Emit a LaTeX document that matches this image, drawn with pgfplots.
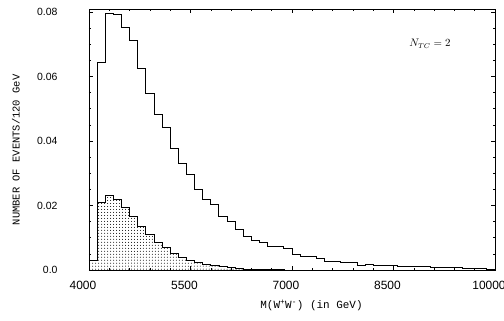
\documentclass[border=0pt]{standalone}
\usepackage{fontspec}
\setmainfont{Liberation Sans}
\setmonofont{Liberation Mono}
\usepackage{pgfplots}
\usepackage{pgfplotstable}
\pgfplotsset{compat=1.18}
\usetikzlibrary{patterns,calc}

\pgfplotstableread{
x big small
4000 0.0030 0.0029
4120 0.0642 0.0209
4240 0.0795 0.0231
4360 0.0792 0.0219
4480 0.0751 0.0193
4600 0.0713 0.0165
4720 0.0625 0.0135
4840 0.0548 0.0110
4960 0.0483 0.0086
5080 0.0442 0.0070
5200 0.0376 0.0052
5320 0.0331 0.0040
5440 0.0297 0.0031
5560 0.0249 0.0025
5680 0.0218 0.0019
5800 0.0202 0.0014
5920 0.0165 0.0010
6040 0.0150 0.0007
6160 0.0126 0.0005
6280 0.0103 0.0003
6400 0.0092 0.0002
6520 0.0085 0.0001
6640 0.0072 0.0001
6760 0.0072 0.0001
6880 0.0067 0.0000
7000 0.0049 0.0000
7120 0.0041 0.0000
7240 0.0041 0.0000
7360 0.0036 0.0000
7480 0.0026 0.0000
7600 0.0026 0.0000
7720 0.0023 0.0000
7840 0.0022 0.0000
7960 0.0013 0.0000
8080 0.0018 0.0000
8200 0.0014 0.0000
8320 0.0013 0.0000
8440 0.0015 0.0000
8560 0.0012 0.0000
8680 0.0012 0.0000
8800 0.0011 0.0000
8920 0.0010 0.0000
9040 0.0009 0.0000
9160 0.0008 0.0000
9280 0.0009 0.0000
9400 0.0007 0.0000
9520 0.0006 0.0000
9640 0.0005 0.0000
9760 0.0004 0.0000
9880 0.0003 0.0000
10000 0.0003 0.0000
}\histdata

\begin{document}
\begin{tikzpicture}
\begin{axis}[
  scale only axis, width=406bp, height=261bp,
  xmin=4000, xmax=10000, ymin=0, ymax=0.0809,
  scaled x ticks=false, scaled y ticks=false,
  xtick={4000,5500,7000,8500,10000},
  xticklabels={4000,5500,7000,8500,10000},
  ytick={0,0.02,0.04,0.06,0.08},
  yticklabels={0.0,0.02,0.04,0.06,0.08},
  minor x tick num=4, minor y tick num=3,
  tick align=inside, tick pos=both,
  major tick length=4bp, minor tick length=2bp,
  tick style={black, line width=0.5pt},
  axis line style={line width=0.8pt},
  xticklabel style={font=\fontsize{12}{14}\selectfont, xshift=-6bp, yshift=-8bp},
  yticklabel style={font=\fontsize{10.5}{12}\selectfont, xshift=-28bp},
  xlabel={\texttt{M(W\textsuperscript{+}W\textsuperscript{-}) (in GeV)}},
  xlabel style={font=\fontsize{11}{13}\selectfont, at={(axis description cs:0.548,-0.136)}, anchor=center},
  ylabel={\texttt{NUMBER OF EVENTS/120 GeV}},
  ylabel style={font=\fontsize{10.5}{12}\selectfont, at={(axis description cs:-0.180,0.46)}, anchor=center},
]
\addplot[const plot, draw=black, line width=0.7pt, pattern=dots] table[x=x, y=small] {\histdata} \closedcycle;
\addplot[const plot, draw=black, line width=0.9pt] table[x=x, y=big] {\histdata};
\node[font=\fontsize{10.5}{12}\selectfont] at (axis description cs:0.84,0.866) {$N_{TC} = 2$};
\end{axis}
\pgfresetboundingbox
\path[use as bounding box] ($(current axis.south west)+(-89bp,-50bp)$) rectangle ($(current axis.north east)+(9bp,9bp)$);
\end{tikzpicture}
\end{document}
